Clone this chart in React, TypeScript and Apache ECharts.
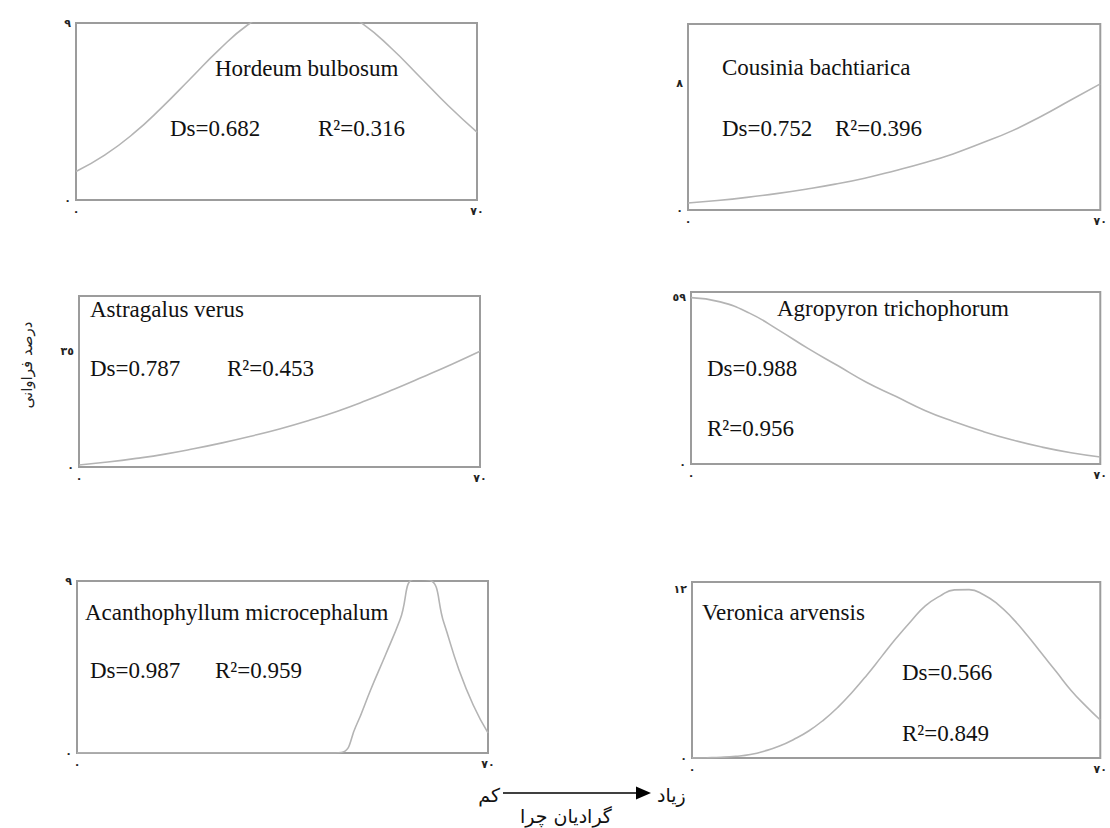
import React, { useEffect, useRef } from "react";
import * as echarts from "echarts";

// ---- data ----
const xEnds = [0, 70];
const stepX = [0, 5, 10, 15, 20, 25, 30, 35, 40, 45, 50, 55, 60, 65, 70];
const fineX = [0, 2.5, 5, 7.5, 10, 12.5, 15, 17.5, 20, 22.5, 25, 27.5, 30, 32.5, 35, 37.5, 40, 42.5, 45, 47.5, 50, 52.5, 55, 57.5, 60, 62.5, 65, 67.5, 70];

const hordeumX = stepX;
const hordeumY = [1.45, 2.28, 3.37, 4.71, 6.18, 7.65, 8.91, 9.77, 10.1, 9.82, 8.97, 7.73, 6.27, 4.79, 3.45];

const cousiniaX = stepX;
const cousiniaY = [0.44, 0.6, 0.8, 1.04, 1.32, 1.64, 2.02, 2.48, 2.98, 3.56, 4.26, 5.02, 5.95, 6.98, 8.0];

const astragalusX = stepX;
const astragalusY = [0.6, 1.5, 2.6, 3.9, 5.5, 7.3, 9.3, 11.5, 14.0, 16.8, 20.0, 23.5, 27.2, 31.0, 35];

const agropyronX = stepX;
const agropyronY = [59, 57.5, 53.5, 47.5, 41, 35, 29, 24, 19, 15, 11.5, 8.5, 6, 4, 2.5];

const acanthoX = [0, 10, 20, 30, 40, 42.5, 45, 47.5, 50, 52.5, 55, 57.5, 60, 62.5, 65, 67.5, 70];
const acanthoY = [0, 0, 0, 0, 0, 0, 0.03, 1.4, 3.3, 5.1, 6.96, 9.1, 9.05, 6.8, 4.4, 2.5, 1.05];

const veronicaX = fineX;
const veronicaY = [0, 0.02, 0.05, 0.12, 0.25, 0.5, 0.85, 1.33, 1.92, 2.68, 3.6, 4.69, 5.9, 7.2, 8.5, 9.7, 10.8, 11.5, 11.94, 11.96, 11.6, 10.9, 9.9, 8.7, 7.4, 6.1, 4.8, 3.7, 2.7];

// y-axis: labelled tick value and axis top
const yTicks = [9, 8, 35, 59, 9, 12];
const yMaxes = [9, 11.8, 51.7, 61, 9, 12.5];

const names = [
  "Hordeum bulbosum",
  "Cousinia bachtiarica",
  "Astragalus verus",
  "Agropyron trichophorum",
  "Acanthophyllum microcephalum",
  "Veronica arvensis",
];
const dsValues = ["0.682", "0.752", "0.787", "0.988", "0.987", "0.566"];
const r2Values = ["0.316", "0.396", "0.453", "0.956", "0.959", "0.849"];

const yTitle = "درصد فراوانی";
const lowText = "کم";
const highText = "زیاد";
const gradientText = "گرادیان چرا";

// ---- layout ----
const grids = [
  { left: 76, top: 23, width: 401, height: 177 },
  { left: 688, top: 24, width: 415, height: 186 },
  { left: 79, top: 296, width: 401, height: 171 },
  { left: 691, top: 292, width: 415, height: 172 },
  { left: 77, top: 581, width: 411, height: 172 },
  { left: 692, top: 582, width: 416, height: 176 },
];
// [name x,y], [Ds x,y], [R2 x,y]
const textPos = [
  [[215, 68], [170, 128], [318, 128]],
  [[722, 67], [722, 128], [835, 128]],
  [[90, 309], [90, 368], [227, 368]],
  [[777, 308], [707, 368], [707, 428]],
  [[85, 612], [90, 670], [215, 670]],
  [[702, 612], [902, 672], [902, 733]],
];

const toArabicDigits = (v: number) =>
  String(v).replace(/\d/g, (d) => "٠١٢٣٤٥٦٧٨٩"[+d]);

const seriesXs = [hordeumX, cousiniaX, astragalusX, agropyronX, acanthoX, veronicaX];
const seriesYs = [hordeumY, cousiniaY, astragalusY, agropyronY, acanthoY, veronicaY];

const tickLabelStyle = {
  fontSize: 11,
  fontWeight: "bold" as const,
  color: "#222",
  fontFamily: "DejaVu Sans",
};

export default function App() {
  const ref = useRef<HTMLDivElement>(null);

  useEffect(() => {
    if (!ref.current) return;
    const chart = echarts.init(ref.current, undefined, { renderer: "svg" });

    const textFont = "Liberation Serif";
    const graphics: any[] = [];
    textPos.forEach((p, i) => {
      graphics.push({
        type: "text",
        style: { x: p[0][0], y: p[0][1], text: names[i], fontFamily: textFont, fontSize: 23, fill: "#111", verticalAlign: "middle", align: "left" },
      });
      graphics.push({
        type: "text",
        style: { x: p[1][0], y: p[1][1], text: "Ds=" + dsValues[i], fontFamily: textFont, fontSize: 23, fill: "#111", verticalAlign: "middle", align: "left" },
      });
      graphics.push({
        type: "text",
        style: { x: p[2][0], y: p[2][1], text: "R²=" + r2Values[i], fontFamily: textFont, fontSize: 23, fill: "#111", verticalAlign: "middle", align: "left" },
      });
    });
    graphics.push({
      type: "text",
      x: 27,
      y: 365,
      rotation: Math.PI / 2,
      style: { x: 0, y: 0, text: yTitle, fontFamily: "DejaVu Sans", fontSize: 15, fill: "#222", align: "center", verticalAlign: "middle" },
    });
    graphics.push({
      type: "text",
      style: { x: 500, y: 795, text: lowText, fontFamily: "DejaVu Sans", fontSize: 19, fill: "#111", align: "right", verticalAlign: "middle" },
    });
    graphics.push({
      type: "text",
      style: { x: 657, y: 795, text: highText, fontFamily: "DejaVu Sans", fontSize: 19, fill: "#111", align: "left", verticalAlign: "middle" },
    });
    graphics.push({
      type: "text",
      style: { x: 566, y: 816, text: gradientText, fontFamily: "DejaVu Sans", fontSize: 19, fill: "#111", align: "center", verticalAlign: "middle" },
    });
    graphics.push({
      type: "line",
      shape: { x1: 503, y1: 793, x2: 640, y2: 793 },
      style: { stroke: "#000", lineWidth: 1.5 },
    });
    graphics.push({
      type: "polygon",
      shape: { points: [[636, 786.5], [651, 793], [636, 799.5]] },
      style: { fill: "#000" },
    });

    const option: any = {
      animation: false,
      backgroundColor: "#fff",
      grid: grids.map((g) => ({
        ...g,
        show: true,
        borderColor: "#9c9c9c",
        borderWidth: 2,
        backgroundColor: "transparent",
        containLabel: false,
      })),
      xAxis: grids.map((_, i) => ({
        gridIndex: i,
        type: "value",
        min: xEnds[0],
        max: xEnds[1],
        interval: xEnds[1],
        axisLine: { show: false },
        axisTick: { show: false },
        splitLine: { show: false },
        axisLabel: {
          ...tickLabelStyle,
          margin: 6,
          formatter: (v: number) => (xEnds.includes(v) ? toArabicDigits(v) : ""),
        },
      })),
      yAxis: grids.map((_, i) => ({
        gridIndex: i,
        type: "value",
        min: 0,
        max: yMaxes[i],
        interval: yTicks[i],
        axisLine: { show: false },
        axisTick: { show: false },
        splitLine: { show: false },
        axisLabel: {
          ...tickLabelStyle,
          margin: 5,
          formatter: (v: number) => (v === 0 || v === yTicks[i] ? toArabicDigits(v) : ""),
        },
      })),
      series: seriesXs.map((xs, i) => ({
        type: "line",
        xAxisIndex: i,
        yAxisIndex: i,
        data: xs.map((x, j) => [x, seriesYs[i][j]]),
        smooth: 0.5,
        showSymbol: false,
        clip: true,
        lineStyle: { color: "#b4b4b4", width: 1.6 },
        silent: true,
      })),
      graphic: graphics,
    };

    chart.setOption(option);
    return () => chart.dispose();
  }, []);

  return (
    <div
      ref={ref}
      style={{ position: "absolute", left: 0, top: 0, width: 1110, height: 828 }}
    />
  );
}
